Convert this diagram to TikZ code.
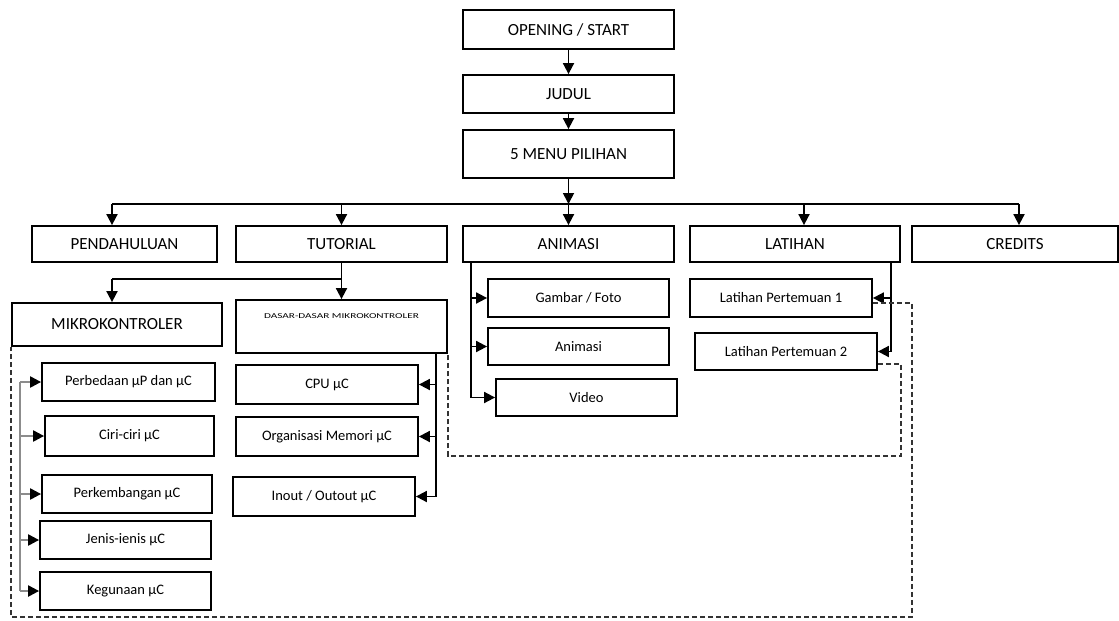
\documentclass[tikz,border=0pt]{standalone}
\usepackage{fontspec}
\setmainfont{Carlito}
\usetikzlibrary{arrows.meta}

\tikzset{
  kotak/.style n args={2}{draw, line width=1.8pt, minimum width=#1, minimum height=#2,
    inner sep=0pt, font=\fontsize{17}{20}\selectfont},
  kecil/.style={font=\fontsize{14.5}{16}\selectfont},
  panah/.style={-{Triangle[length=11pt,width=11pt]}, line width=1.8pt},
  garis/.style={line width=1.8pt},
  abu/.style={line width=2.2pt, black!45},
  panahabu/.style={-{Triangle[length=11pt,width=11pt,black]}, line width=2.2pt, black!45},
  putus/.style={line width=1.8pt, black!80, dash pattern=on 5pt off 3pt}
}

\begin{document}
\begin{tikzpicture}[x=1pt,y=-1pt]
\useasboundingbox (0,0) rectangle (1119,621);

%верх
\node[kotak={211pt}{39pt}] (start) at (568.5,29.5) {OPENING / START};
\node[kotak={211pt}{38pt}] (judul) at (568.5,94) {JUDUL};
\node[kotak={211pt}{48pt}] (menu) at (568.5,154) {5 MENU PILIHAN};
\draw[panah] (start) -- (judul);
\draw[panah] (judul) -- (menu);

%пять меню
\node[kotak={185pt}{36pt}] (pend) at (124.5,244) {PENDAHULUAN};
\node[kotak={211pt}{36pt}] (tut) at (341.5,244) {TUTORIAL};
\node[kotak={211pt}{36pt}] (anim) at (568.5,244) {ANIMASI};
\node[kotak={210pt}{36pt}] (lat) at (795,244) {LATIHAN};
\node[kotak={206pt}{36pt}] (cred) at (1015,244) {CREDITS};

\coordinate (bus) at (568.5,204);
\coordinate (bL) at (112,204);
\coordinate (bR) at (1019,204);
\draw[panah] (menu) -- (bus);
\draw[garis] (bL) -- (bR);
\draw[panah] (bL) -- (bL |- pend.north);
\draw[panah] (bus -| tut) -- (tut);
\draw[panah] (bus) -- (anim);
\draw[panah] (bus -| 804,0) -- (804,0 |- lat.north);
\draw[panah] (bR) -- (bR |- cred.north);

%tutorial
\node[kotak={210pt}{43pt}] (mikro) at (117,324.5) {MIKROKONTROLER};
\node[kotak={211pt}{53pt}, label={[anchor=center, yshift=-17pt, font=\fontsize{7.5}{8}\selectfont]north:{\scalebox{1.5}[1]{DASAR-DASAR MIKROKONTROLER}}}] (dasar) at (341.5,326.5) {};

\coordinate (tb) at (341.5,279);
\draw[garis] (tut) -- (tb) -- (tb -| 112,0);
\draw[panah] (112,279) -- (112,0 |- mikro.north);
\draw[panah] (tb) -- (dasar);

%mikrokontroler
\node[kotak={173pt}{38pt}, kecil] (perb) at (128.5,382) {Perbedaan µP dan µC};
\node[kotak={169pt}{40pt}, kecil] (ciri) at (129.5,436) {Ciri-ciri µC};
\node[kotak={170pt}{38pt}, kecil] (perk) at (127,494) {Perkembangan µC};
\node[kotak={171pt}{38pt}, kecil] (jenis) at (125.5,540) {Jenis-ienis µC};
\node[kotak={171pt}{38pt}, kecil] (guna) at (125.5,591) {Kegunaan µC};

\coordinate (mv) at (20,382);
\draw[abu] (mv) -- (mv |- guna.west);
\foreach \n in {perb,ciri,perk,jenis,guna}
  \draw[panahabu] (mv |- \n.west) -- (\n.west);

%dasar-dasar
\node[kotak={182pt}{39pt}, kecil] (cpu) at (327,384.5) {CPU µC};
\node[kotak={182pt}{39pt}, kecil] (org) at (327,436.5) {Organisasi Memori µC};
\node[kotak={182pt}{39pt}, kecil] (inout) at (324,496.5) {Inout / Outout µC};

\coordinate (dv) at ([xshift=-12pt]dasar.south east);
\draw[panah] (dv) |- (inout.east);
\draw[panah] (dv |- cpu.east) -- (cpu.east);
\draw[panah] (dv |- org.east) -- (org.east);

%animasi
\node[kotak={181pt}{38pt}, kecil] (gambar) at (578.5,298) {Gambar / Foto};
\node[kotak={181pt}{37pt}, kecil] (animasi) at (578.5,346.5) {Animasi};
\node[kotak={181pt}{37pt}, kecil] (video) at (586.5,397.5) {Video};

\coordinate (av) at ([xshift=9pt]anim.south west);
\draw[panah] (av) |- (video.west);
\draw[panah] (av |- gambar.west) -- (gambar.west);
\draw[panah] (av |- animasi.west) -- (animasi.west);

%latihan
\node[kotak={182pt}{38pt}, kecil] (lp1) at (781,298) {Latihan Pertemuan 1};
\node[kotak={182pt}{37pt}, kecil] (lp2) at (786,351.5) {Latihan Pertemuan 2};

\coordinate (lv) at ([xshift=-10pt]lat.south east);
\draw[panah] (lv) |- (lp2.east);
\draw[panah] (lv |- lp1.east) -- (lp1.east);

%пунктир
\coordinate (d1) at (912,617);
\coordinate (d2) at (901,456);
\draw[putus] ([yshift=-5pt]lp1.east) -| (d1) -| (mikro.south west);
\draw[putus] ([yshift=7pt]lp2.south east) -| (d2) -| (dasar.south east);

\end{tikzpicture}
\end{document}
